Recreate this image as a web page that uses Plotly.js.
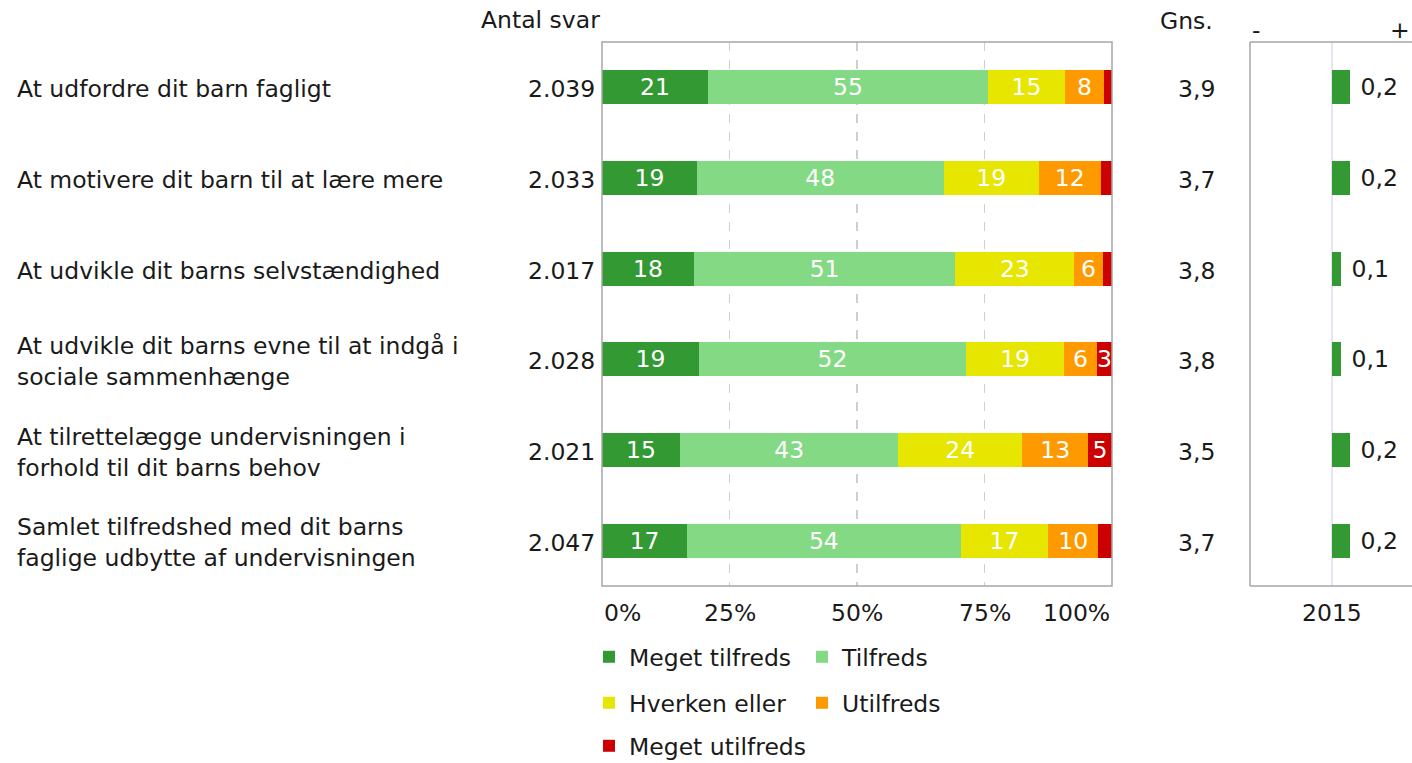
<!DOCTYPE html>
<html>
<head>
<meta charset="utf-8">
<script src="https://cdn.plot.ly/plotly-3.0.1.min.js"></script>
<style>html,body{margin:0;padding:0;background:#fff;}#chart{width:1412px;height:763px;}</style>
</head>
<body>
<div id="chart"></div>
<script>
const categories = [
  "At udfordre dit barn fagligt",
  "At motivere dit barn til at lære mere",
  "At udvikle dit barns selvstændighed",
  "At udvikle dit barns evne til at indgå i<br>sociale sammenhænge",
  "At tilrettelægge undervisningen i<br>forhold til dit barns behov",
  "Samlet tilfredshed med dit barns<br>faglige udbytte af undervisningen"
];
const seriesNames = ["Meget tilfreds", "Tilfreds", "Hverken eller", "Utilfreds", "Meget utilfreds"];
// percentages (labels show the rounded values)
const megetTilfreds  = [20.8, 18.6, 18.0, 19.0, 15.3, 16.7];
const tilfreds       = [54.9, 48.4, 51.3, 52.4, 42.8, 53.6];
const hverkenEller   = [15.1, 18.6, 23.3, 19.2, 24.3, 17.2];
const utilfreds      = [7.6, 12.2, 5.6, 6.4, 12.9, 9.8];
const megetUtilfreds = [1.6, 2.2, 1.8, 3.0, 4.7, 2.7];
const antalSvar = ["2.039", "2.033", "2.017", "2.028", "2.021", "2.047"];
const gns = ["3,9", "3,7", "3,8", "3,8", "3,5", "3,7"];
const diff2015 = [0.2, 0.2, 0.1, 0.1, 0.2, 0.2];
const xTickVals = [0, 25, 50, 75, 100];
const xTickText = ["0%", "25%", "50%", "75%", "100%"];
const diffTickLabel = "2015";

const colors = ["#339933", "#84d984", "#e6e600", "#ff9900", "#cc0000"];
const series = [megetTilfreds, tilfreds, hverkenEller, utilfreds, megetUtilfreds];
const legendIds = ["legend", "legend", "legend2", "legend2", "legend3"];
const FONT = "DejaVu Sans, Verdana, sans-serif";
const FS = 23.5;
const TXT = "#1a1a1a";
const rows = categories.map((c, i) => "r" + i);

const traces = series.map((vals, k) => ({
  type: "bar",
  orientation: "h",
  name: seriesNames[k],
  y: rows,
  x: vals,
  xaxis: "x",
  yaxis: "y",
  marker: {color: colors[k], line: {width: 0}},
  text: vals.map(v => v >= 2.8 ? String(Math.round(v)) : ""),
  textposition: "inside",
  insidetextanchor: "middle",
  textfont: {color: "#ffffff", size: FS, family: FONT},
  width: 0.375,
  legend: legendIds[k],
  hoverinfo: "x+name"
}));

traces.push({
  type: "bar",
  orientation: "h",
  y: rows,
  x: diff2015,
  xaxis: "x2",
  yaxis: "y",
  marker: {color: "#339933", line: {width: 0}},
  text: diff2015.map(v => "\u00a0" + v.toFixed(1).replace(".", ",")),
  textposition: "outside",
  textfont: {color: TXT, size: FS, family: FONT},
  cliponaxis: false,
  width: 0.375,
  showlegend: false
});

const annotations = [];
categories.forEach((c, i) => {
  annotations.push({xref: "paper", yref: "y", x: 15/1412, y: rows[i], xanchor: "left", yanchor: "middle", yshift: -2,
    text: c, showarrow: false, align: "left", font: {size: FS, family: FONT, color: TXT}});
  annotations.push({xref: "paper", yref: "y", x: 597/1412, y: rows[i], xanchor: "right", yanchor: "middle", yshift: -2,
    text: antalSvar[i], showarrow: false, font: {size: FS, family: FONT, color: TXT}});
  annotations.push({xref: "paper", yref: "y", x: 1196/1412, y: rows[i], xanchor: "center", yanchor: "middle", yshift: -2,
    text: gns[i], showarrow: false, font: {size: FS, family: FONT, color: TXT}});
});
annotations.push({xref: "paper", yref: "paper", x: 602/1412, y: 1, yshift: 22, xanchor: "right", yanchor: "middle",
  text: "Antal svar", showarrow: false, font: {size: FS, family: FONT, color: TXT}});
annotations.push({xref: "paper", yref: "paper", x: 1186/1412, y: 1, yshift: 21, xanchor: "center", yanchor: "middle",
  text: "Gns.", showarrow: false, font: {size: FS, family: FONT, color: TXT}});
annotations.push({xref: "paper", yref: "paper", x: 1256/1412, y: 1, yshift: 12, xanchor: "center", yanchor: "middle",
  text: "-", showarrow: false, font: {size: FS, family: FONT, color: TXT}});
annotations.push({xref: "paper", yref: "paper", x: 1400/1412, y: 1, yshift: 12, xanchor: "center", yanchor: "middle",
  text: "+", showarrow: false, font: {size: FS, family: FONT, color: TXT}});
xTickVals.forEach((v, i) => {
  annotations.push({xref: "x", yref: "paper", x: v, y: 0, yshift: -27, yanchor: "middle",
    xanchor: i === 0 ? "left" : (i === xTickVals.length - 1 ? "right" : "center"),
    text: xTickText[i], showarrow: false, font: {size: FS, family: FONT, color: TXT}});
});
annotations.push({xref: "x2", yref: "paper", x: 0, y: 0, yshift: -27, xanchor: "center", yanchor: "middle",
  text: diffTickLabel, showarrow: false, font: {size: FS, family: FONT, color: TXT}});

const frame = "#a6a6a6";
const shapes = [
  {type: "rect", xref: "x domain", yref: "y domain", x0: 0, x1: 1, y0: 0, y1: 1, line: {color: frame, width: 1.5}},
  {type: "line", xref: "x2 domain", yref: "y domain", x0: 0, x1: 0, y0: 0, y1: 1, line: {color: frame, width: 1.5}},
  {type: "line", xref: "x2 domain", yref: "y domain", x0: 0, x1: 1, y0: 1, y1: 1, line: {color: frame, width: 1.5}},
  {type: "line", xref: "x2 domain", yref: "y domain", x0: 0, x1: 1, y0: 0, y1: 0, line: {color: frame, width: 1.5}},
  {type: "line", xref: "x2", yref: "y domain", x0: 0, x1: 0, y0: 0, y1: 1, layer: "below", line: {color: "#dcdcf0", width: 1.5}}
];

const legendBase = {orientation: "h", xref: "paper", yref: "paper", x: 589/1412, xanchor: "left", yanchor: "middle",
  entrywidth: 168, entrywidthmode: "pixels", itemwidth: 30, font: {size: FS, family: FONT, color: TXT},
  bgcolor: "rgba(0,0,0,0)", traceorder: "normal"};

const layout = {
  width: 1412, height: 763,
  margin: {l: 0, r: 0, t: 42, b: 177, autoexpand: false},
  paper_bgcolor: "#ffffff", plot_bgcolor: "#ffffff",
  barmode: "stack",
  font: {family: FONT, size: FS, color: TXT},
  xaxis: {domain: [602/1412, 1112/1412], range: [0, 100], tickvals: [25, 50, 75], showticklabels: false,
    showgrid: true, gridcolor: "#cfcfcf", griddash: "dash", gridwidth: 1.5, zeroline: false, fixedrange: true},
  xaxis2: {domain: [1250/1412, 1], range: [-0.911, 0.889], anchor: "y", showgrid: false, zeroline: false,
    showticklabels: false, fixedrange: true},
  yaxis: {domain: [0, 1], autorange: "reversed", showticklabels: false, showgrid: false, zeroline: false,
    type: "category", fixedrange: true},
  uniformtext: {mode: "show", minsize: FS},
  showlegend: true,
  legend: Object.assign({}, legendBase, {y: -71/544}),
  legend2: Object.assign({}, legendBase, {y: -117/544}),
  legend3: Object.assign({}, legendBase, {y: -160/544, entrywidth: 0, tracegroupgap: 0}),
  annotations: annotations,
  shapes: shapes
};

Plotly.newPlot("chart", traces, layout, {displayModeBar: false, staticPlot: true});
</script>
</body>
</html>
